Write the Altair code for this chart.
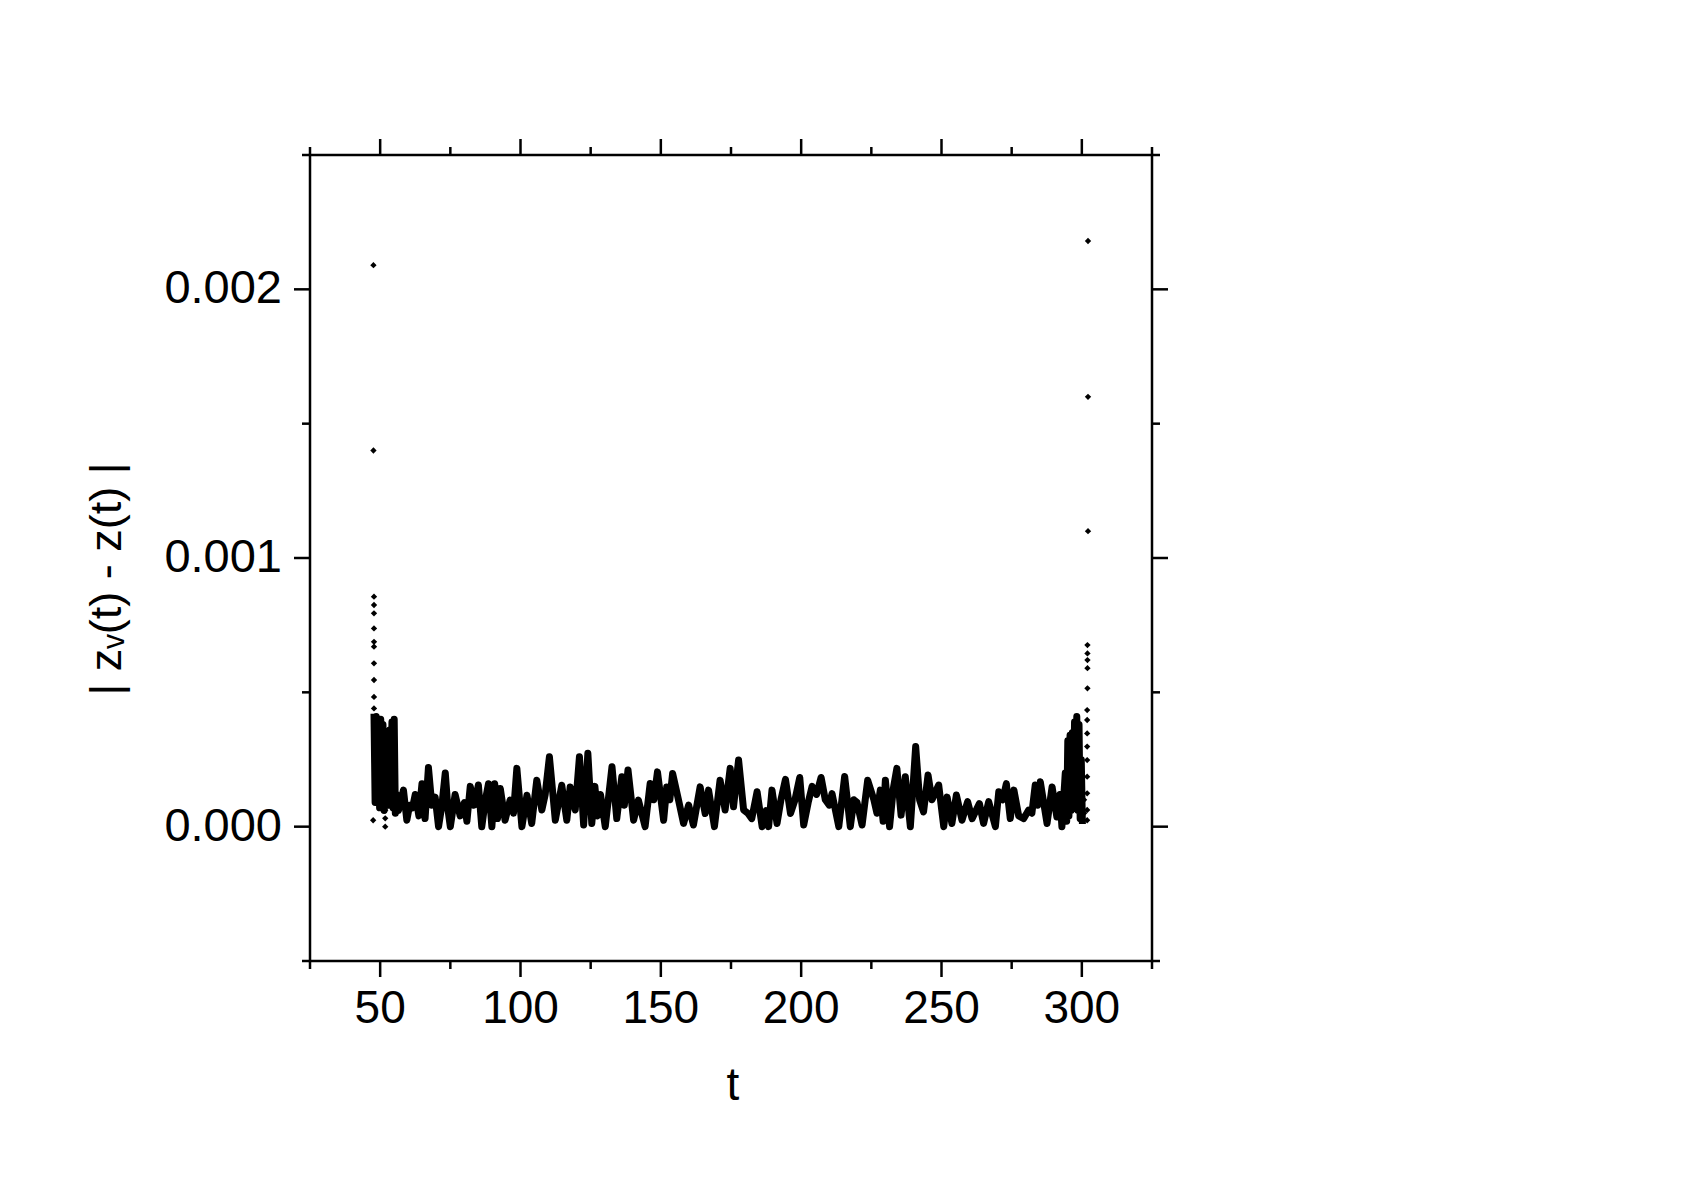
import altair as alt
import pandas as pd

UNIT = 1e-4  # values below are |z_v(t) - z(t)| in units of 1e-4

# dense oscillating trace (turning points)
LINE_T = [47.8, 48.2, 48.6, 49.0, 49.4, 49.8, 50.2, 50.6, 51.0, 51.4, 51.8, 52.2, 52.6, 53.0, 53.4,
          53.8, 54.2, 54.6, 55.0, 55.4, 55.8, 56.5, 57.5, 58.3, 59.5, 60.5, 61.5, 62.5, 63.8, 64.9,
          66.0, 67.2, 68.4, 69.6, 70.8, 72.0, 73.2, 74.2, 75.0, 76.7, 78.5, 80.0, 80.9, 82.1, 83.5,
          85.0, 86.2, 87.5, 88.6, 89.8, 90.8, 91.8, 92.8, 94.5, 96.3, 97.5, 98.7, 100.5, 102.3, 104.0,
          105.8, 107.6, 108.8, 110.3, 112.4, 114.7, 116.5, 117.7, 119.5, 121.0, 122.5, 124.0, 125.4,
          126.5, 127.5, 128.5, 130.2, 132.6, 134.3, 136.1, 137.0, 138.3, 140.3, 142.0, 144.4, 146.2,
          147.5, 148.8, 151.0, 152.1, 153.2, 154.2, 156.3, 158.1, 159.9, 161.6, 164.0, 165.8, 167.0,
          169.1, 171.1, 172.9, 174.7, 175.9, 177.7, 179.5, 181.0, 182.4, 184.3, 186.1, 187.5, 188.4,
          189.6, 191.4, 192.8, 194.4, 196.2, 197.8, 199.5, 200.9, 202.5, 203.9, 205.5, 207.1, 208.6,
          210.0, 211.0, 213.4, 215.5, 217.5, 218.8, 219.9, 221.7, 223.7, 225.9, 227.0, 228.2, 229.2,
          230.0, 231.5, 232.8, 234.1, 235.6, 237.1, 238.9, 240.8, 242.2, 243.6, 245.2, 246.6, 249.0,
          250.8, 252.0, 253.7, 255.3, 257.3, 259.3, 260.9, 263.5, 265.0, 266.8, 269.2, 270.4, 271.8,
          273.1, 274.5, 275.8, 277.5, 279.3, 281.0, 282.2, 283.4, 284.3, 285.2, 287.6, 289.4, 291.1,
          292.2, 292.9, 294.1, 294.6, 295.0, 295.4, 295.8, 296.2, 296.6, 297.0, 297.4, 297.8, 298.2,
          298.6, 299.0, 299.4, 299.8, 300.2]
LINE_V = [4.2, 0.9, 4.1, 1.2, 3.9, 0.7, 4.0, 1.0, 3.8, 0.6, 3.3, 1.1, 3.4, 0.8, 3.6,
          1.0, 3.9, 0.7, 4.0, 0.5, 1.2, 0.6, 1.0, 1.36, 0.24, 0.8, 0.7, 1.2, 0.4, 1.6,
          0.3, 2.2, 0.8, 1.1, 0.0, 0.8, 2.0, 0.6, 0.0, 1.2, 0.4, 0.9, 0.2, 1.5, 0.8,
          1.55, 0.0, 1.0, 1.6, 0.0, 1.6, 0.3, 1.42, 0.24, 0.99, 0.5, 2.17, 0.0, 1.17, 0.12,
          1.73, 0.62, 1.2, 2.6, 0.24, 1.54, 0.24, 1.48, 0.62, 2.6, 0.06, 2.73, 0.12,
          1.5, 0.4, 1.2, 0.0, 2.23, 0.3, 1.86, 0.8, 2.11, 0.24, 0.99, 0.0, 1.61,
          1.0, 2.04, 0.24, 1.48, 1.0, 1.98, 0.99, 0.12, 0.8, 0.06, 1.48, 0.49, 1.36,
          0.0, 1.73, 0.62, 2.17, 0.74, 2.48, 0.62, 0.5, 0.3, 1.3, 0.0, 0.6, 0.0,
          1.36, 0.12, 1.0, 1.76, 0.49, 1.0, 1.83, 0.06, 0.9, 1.5, 1.2, 1.83, 1.0,
          0.8, 1.23, 0.0, 1.87, 0.0, 1.0, 0.9, 0.06, 1.73, 1.0, 0.5, 1.36, 0.2,
          1.73, 0.0, 1.4, 2.17, 0.43, 1.86, 0.0, 2.98, 1.0, 0.55, 1.92, 1.0, 1.55,
          0.0, 1.1, 0.12, 1.18, 0.24, 0.93, 0.3, 0.86, 0.12, 0.93, 0.0, 1.3, 1.0,
          1.6, 0.3, 1.36, 0.4, 0.3, 0.61, 0.5, 1.55, 0.8, 1.67, 0.12, 1.48, 0.36,
          1.2, 0.0, 2.0, 0.2, 3.2, 0.4, 3.4, 0.6, 3.5, 0.8, 3.9, 1.0, 4.1,
          0.6, 3.8, 0.3, 2.5, 0.1]

# isolated points at both ends
PT_T = [47.6, 47.6, 47.8, 47.8, 47.8, 47.8, 47.8, 47.8, 47.8, 47.8, 47.8, 47.8, 47.5,
        51.8, 51.8, 51.8,
        302.2, 302.2, 302.2, 302.0, 302.0, 302.0, 302.0, 302.0, 301.9, 301.9, 301.9, 301.9,
        301.9, 301.9, 301.9, 301.9, 301.9, 300.8, 300.8]
PT_V = [20.9, 14.0, 8.56, 8.25, 7.94, 7.38, 6.88, 6.70, 6.08, 5.46, 4.83, 4.40, 0.24,
        0.61, 0.31, 0.0,
        21.8, 16.0, 11.0, 6.76, 6.45, 6.2, 5.9, 5.15, 4.34, 3.97, 3.47, 2.98,
        2.48, 1.86, 1.24, 0.62, 0.24, 1.0, 0.5]

X_MAJOR = [50, 100, 150, 200, 250, 300]
X_MINOR = [25, 75, 125, 175, 225, 275, 325]
Y_MAJOR = [0.0, 0.001, 0.002]
Y_MINOR = [-0.0005, 0.0005, 0.0015, 0.0025]
X_DOMAIN = [25, 325]
Y_DOMAIN = [-0.0005, 0.0025]
X_TITLE = "t"
Y_TITLE = "| zᵥ(t) - z(t) |"

W, H = 842, 806
FONT = "Liberation Sans"
MAJ, MIN = 16, 8
SW = 2.5

line_df = pd.DataFrame({"t": LINE_T, "v": [v * UNIT for v in LINE_V]})
pt_df = pd.DataFrame({"t": PT_T, "v": [v * UNIT for v in PT_V]})

xs = alt.Scale(domain=X_DOMAIN, nice=False, zero=False)
ys = alt.Scale(domain=Y_DOMAIN, nice=False, zero=False)


def X(field="t"):
    return alt.X(f"{field}:Q", scale=xs, axis=None)


def Y(field="v"):
    return alt.Y(f"{field}:Q", scale=ys, axis=None)


line = alt.Chart(line_df).mark_line(color="black", strokeWidth=7, strokeJoin="round").encode(
    x=X(), y=Y(), order="t:Q"
)

pts = alt.Chart(pt_df).mark_point(shape="diamond", filled=True, color="black", size=40, opacity=1).encode(
    x=X(), y=Y()
)


def xticks(vals, length):
    df = pd.DataFrame({"t": vals})
    base = alt.Chart(df).mark_rule(color="black", strokeWidth=SW)
    bottom = base.encode(x=X(), y=alt.value(H), y2=alt.value(H + length))
    top = base.encode(x=X(), y=alt.value(0), y2=alt.value(-length))
    return [bottom, top]


def yticks(vals, length):
    df = pd.DataFrame({"v": vals})
    base = alt.Chart(df).mark_rule(color="black", strokeWidth=SW)
    left = base.encode(y=Y(), x=alt.value(0), x2=alt.value(-length))
    right = base.encode(y=Y(), x=alt.value(W), x2=alt.value(W + length))
    return [left, right]


xlab = alt.Chart(pd.DataFrame({"t": X_MAJOR})).mark_text(
    font=FONT, fontSize=46, color="black", align="center", baseline="top"
).encode(x=X(), y=alt.value(H + 26), text=alt.Text("t:Q", format="d"))

ylab = alt.Chart(pd.DataFrame({"v": Y_MAJOR})).mark_text(
    font=FONT, fontSize=47, color="black", align="right", baseline="middle"
).encode(y=Y(), x=alt.value(-28), text=alt.Text("v:Q", format=".3f"))

xtitle = alt.Chart(pd.DataFrame({"s": [X_TITLE]})).mark_text(
    font=FONT, fontSize=46, color="black", align="center", baseline="top"
).encode(x=alt.value(423), y=alt.value(H + 103), text="s:N")

ytitle = alt.Chart(pd.DataFrame({"s": [Y_TITLE]})).mark_text(
    font=FONT, fontSize=45, color="black", align="center", baseline="bottom", angle=270
).encode(x=alt.value(-180), y=alt.value(424), text="s:N")

layers = ([line, pts] + xticks(X_MAJOR, MAJ) + xticks(X_MINOR, MIN)
          + yticks(Y_MAJOR, MAJ) + yticks(Y_MINOR, MIN) + [xlab, ylab, xtitle, ytitle])

chart = alt.layer(*layers).properties(
    width=W, height=H,
    autosize=alt.AutoSizeParams(type="none"),
    padding={"left": 302, "top": 147, "right": 300, "bottom": 160},
    background="white",
).configure_view(stroke="black", strokeWidth=SW)

chart.save("out.html", embed_options={"renderer": "svg", "actions": False})
